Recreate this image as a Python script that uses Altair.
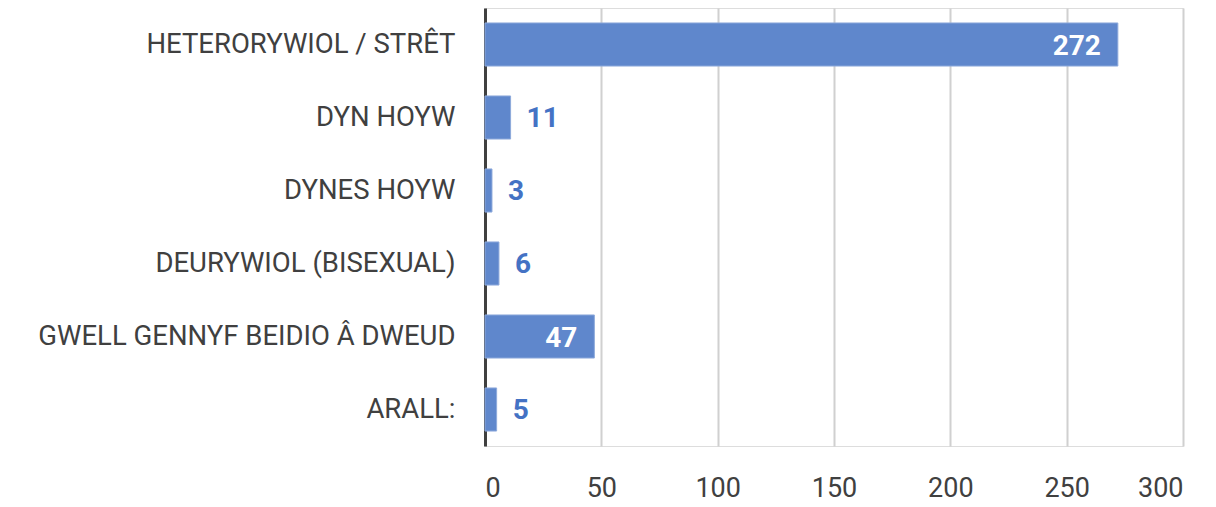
import altair as alt
import pandas as pd

NBSP = "\u00a0"
categories = [
    "HETERORYWIOL / STRÊT" + NBSP,
    "DYN HOYW" + NBSP + NBSP,
    "DYNES HOYW",
    "DEURYWIOL (BISEXUAL)" + NBSP + NBSP,
    "GWELL GENNYF BEIDIO Â DWEUD" + NBSP,
    "ARALL:",
]
values = [272, 11, 3, 6, 47, 5]
x_ticks = [0, 50, 100, 150, 200, 250, 300]

df = pd.DataFrame({"category": categories, "value": values})

FONT = "Roboto"
TEXT = "#404040"
BLUE = "#4472C4"

y_enc = alt.Y(
    "category:N",
    sort=categories,
    title=None,
    scale=alt.Scale(paddingInner=0.41, paddingOuter=0.205),
    axis=alt.Axis(
        labelFont=FONT, labelFontSize=27.5, labelColor=TEXT, labelPadding=30,
        ticks=False, domain=True, domainColor="#404040", domainWidth=3,
        labelLimit=600,
    ),
)
x_enc = alt.X(
    "value:Q",
    title=None,
    scale=alt.Scale(domain=[0, 300], nice=False),
    axis=alt.Axis(
        values=x_ticks, labelFont=FONT, labelFontSize=27, labelColor=TEXT,
        ticks=False, domain=False, grid=True, gridColor="#d0d0d0", gridWidth=2,
        labelPadding=29,
    ),
)

bars = alt.Chart(df).mark_bar(color="#5F87CC", stroke="#8eaadb", strokeWidth=1).encode(
    x=x_enc, y=y_enc
)

outside = alt.Chart(df).transform_filter("datum.value < 20").mark_text(
    align="left", baseline="middle", dx=16, dy=1, font=FONT, fontSize=28,
    fontWeight="bold", color=BLUE,
).encode(x="value:Q", y=alt.Y("category:N", sort=categories), text="value:Q")

inside = alt.Chart(df).transform_filter("datum.value >= 20").mark_text(
    align="right", baseline="middle", dx=-17, dy=2, font=FONT, fontSize=28,
    fontWeight="bold", color="white",
).encode(x="value:Q", y=alt.Y("category:N", sort=categories), text="value:Q")

chart = (
    alt.layer(bars, outside, inside)
    .properties(
        width=698, height=438,
        autosize=alt.AutoSizeParams(type="none"),
        padding={"left": 477, "top": 0, "right": 20, "bottom": 61},
    )
    .configure_view(stroke=None)
    .configure(background="white")
)

chart.save("out.html", embed_options={"renderer": "svg", "actions": False})
